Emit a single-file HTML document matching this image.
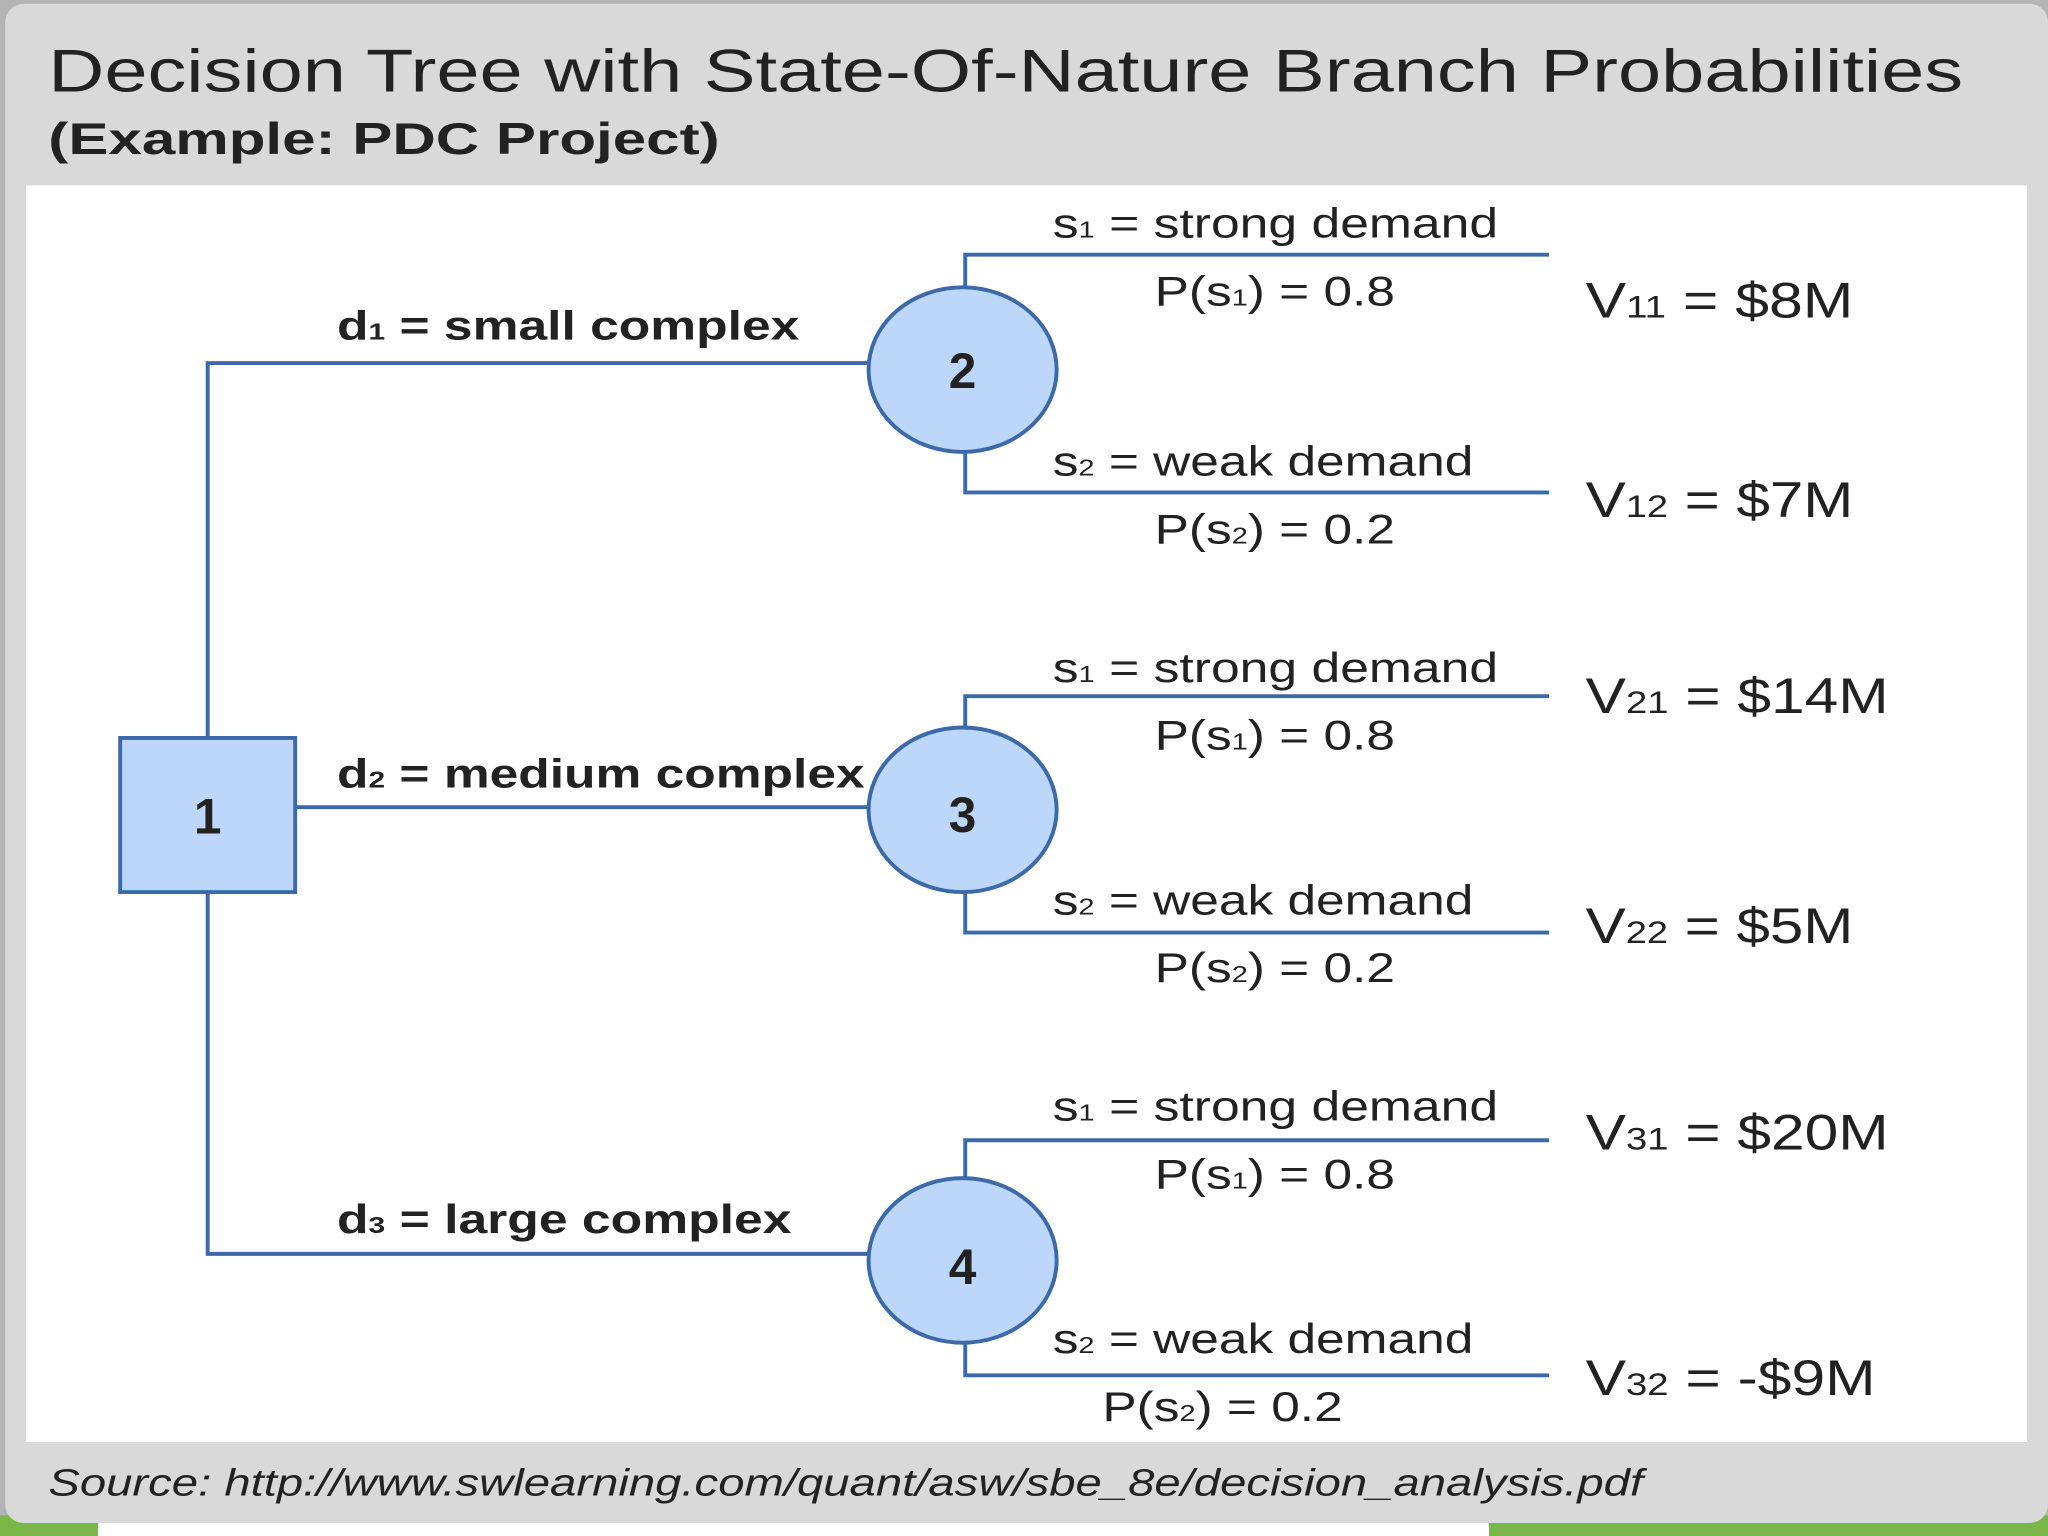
<!DOCTYPE html>
<html><head><meta charset="utf-8"><style>
html,body{margin:0;padding:0;width:2048px;height:1536px;overflow:hidden;background:#fff}
svg{display:block}
text{font-family:"Liberation Sans",sans-serif;fill:#222}
</style></head><body>
<svg width="2048" height="1536" viewBox="0 0 1568 1176" xmlns="http://www.w3.org/2000/svg">
<rect x="0" y="0" width="1568" height="1176" fill="#b4b4b4"/>
<rect x="0" y="1160" width="1568" height="16" fill="#fff"/>
<rect x="0" y="1160" width="75" height="16" fill="#7ab648"/>
<rect x="1140" y="1160" width="428" height="16" fill="#7ab648"/>
<rect x="4" y="3" width="1564" height="1163" rx="14" fill="#d9d9d9"/>
<rect x="20" y="142" width="1532" height="962" fill="#fff"/>
<text x="37" y="70" font-size="46" fill="#333" textLength="1466" lengthAdjust="spacingAndGlyphs">Decision Tree with State-Of-Nature Branch Probabilities</text>
<text x="37" y="118" font-size="34" font-weight="bold" fill="#333" textLength="514" lengthAdjust="spacingAndGlyphs">(Example: PDC Project)</text>
<g stroke="#3c6aa8" stroke-width="3" fill="none">
<path d="M159 565V278H665M226 618H665M159 683V960H665"/>
<path d="M739 220V195H1186M739 345V377H1186"/>
<path d="M739 558V533H1186M739 683V714H1186"/>
<path d="M739 903V873H1186M739 1028V1053H1186"/>
</g>
<g fill="#bdd7fb" stroke="#3c6aa8" stroke-width="3">
<rect x="92" y="565" width="134" height="118"/>
<ellipse cx="737" cy="283" rx="72" ry="63"/>
<ellipse cx="737" cy="620" rx="72" ry="63"/>
<ellipse cx="737" cy="965" rx="72" ry="63"/>
</g>
<g font-size="38" font-weight="bold" text-anchor="middle">
<text x="159" y="638">1</text><text x="737" y="297">2</text><text x="737" y="637">3</text><text x="737" y="983">4</text>
</g>
<g font-size="31" font-weight="bold" lengthAdjust="spacingAndGlyphs">
<text x="258" y="260" textLength="354" lengthAdjust="spacingAndGlyphs">d<tspan font-size="18">1</tspan> = small complex</text>
<text x="258" y="603" textLength="404" lengthAdjust="spacingAndGlyphs">d<tspan font-size="18">2</tspan> = medium complex</text>
<text x="258" y="944" textLength="348" lengthAdjust="spacingAndGlyphs">d<tspan font-size="18">3</tspan> = large complex</text>
</g>
<g font-size="32">
<text x="806" y="182" textLength="341" lengthAdjust="spacingAndGlyphs">s<tspan font-size="18">1</tspan> = strong demand</text>
<text x="884" y="234" textLength="184" lengthAdjust="spacingAndGlyphs">P(s<tspan font-size="18">1</tspan>) = 0.8</text>
<text x="806" y="364" textLength="322" lengthAdjust="spacingAndGlyphs">s<tspan font-size="18">2</tspan> = weak demand</text>
<text x="884" y="416" textLength="184" lengthAdjust="spacingAndGlyphs">P(s<tspan font-size="18">2</tspan>) = 0.2</text>
<text x="806" y="522" textLength="341" lengthAdjust="spacingAndGlyphs">s<tspan font-size="18">1</tspan> = strong demand</text>
<text x="884" y="574" textLength="184" lengthAdjust="spacingAndGlyphs">P(s<tspan font-size="18">1</tspan>) = 0.8</text>
<text x="806" y="700" textLength="322" lengthAdjust="spacingAndGlyphs">s<tspan font-size="18">2</tspan> = weak demand</text>
<text x="884" y="752" textLength="184" lengthAdjust="spacingAndGlyphs">P(s<tspan font-size="18">2</tspan>) = 0.2</text>
<text x="806" y="858" textLength="341" lengthAdjust="spacingAndGlyphs">s<tspan font-size="18">1</tspan> = strong demand</text>
<text x="884" y="910" textLength="184" lengthAdjust="spacingAndGlyphs">P(s<tspan font-size="18">1</tspan>) = 0.8</text>
<text x="806" y="1036" textLength="322" lengthAdjust="spacingAndGlyphs">s<tspan font-size="18">2</tspan> = weak demand</text>
<text x="844" y="1088" textLength="184" lengthAdjust="spacingAndGlyphs">P(s<tspan font-size="18">2</tspan>) = 0.2</text>
</g>
<g font-size="38">
<text x="1214" y="243" textLength="205" lengthAdjust="spacingAndGlyphs">V<tspan font-size="24">11</tspan> = $8M</text>
<text x="1214" y="396" textLength="205" lengthAdjust="spacingAndGlyphs">V<tspan font-size="24">12</tspan> = $7M</text>
<text x="1214" y="546" textLength="232" lengthAdjust="spacingAndGlyphs">V<tspan font-size="24">21</tspan> = $14M</text>
<text x="1214" y="722" textLength="205" lengthAdjust="spacingAndGlyphs">V<tspan font-size="24">22</tspan> = $5M</text>
<text x="1214" y="880" textLength="232" lengthAdjust="spacingAndGlyphs">V<tspan font-size="24">31</tspan> = $20M</text>
<text x="1214" y="1068" textLength="222" lengthAdjust="spacingAndGlyphs">V<tspan font-size="24">32</tspan> = -$9M</text>
</g>
<text x="37" y="1145" font-size="29" font-style="italic" fill="#333" textLength="1221" lengthAdjust="spacingAndGlyphs">Source: http://www.swlearning.com/quant/asw/sbe_8e/decision_analysis.pdf</text>
</svg>
</body></html>
